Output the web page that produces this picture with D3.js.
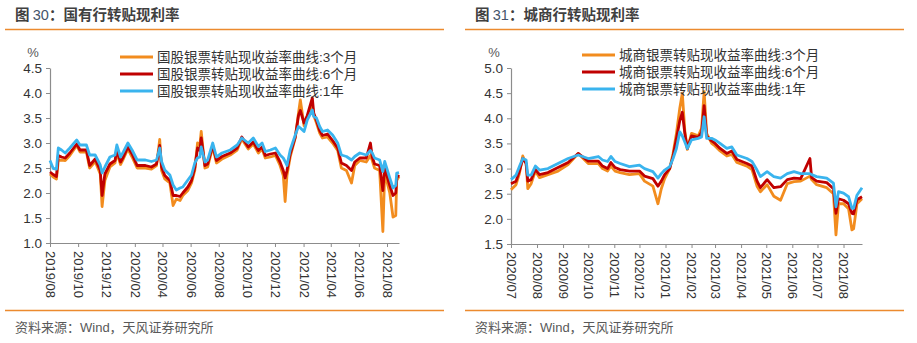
<!DOCTYPE html>
<html>
<head>
<meta charset="utf-8">
<script src="https://cdn.jsdelivr.net/npm/d3@7"></script>
<style>
  body { margin: 0; background: #fff; }
  svg { display: block; font-family: "Liberation Sans", Arial, "Noto Sans CJK SC", sans-serif; }
  .axis path, .axis line { stroke: #8c8c8c; }
  .axis text { fill: #333; }
</style>
</head>
<body>
<svg id="chart" width="917" height="343"></svg>
<script>
// 图30 国股银票
var leftDates = ["2019-08-01","2019-08-08","2019-08-15","2019-08-19","2019-08-26","2019-09-03","2019-09-13","2019-09-28",
  "2019-10-05","2019-10-19","2019-10-26","2019-11-07","2019-11-18","2019-11-22","2019-11-28","2019-12-09","2019-12-20",
  "2019-12-24","2020-01-01","2020-01-07","2020-01-17","2020-01-26","2020-02-06","2020-02-24","2020-03-08","2020-03-19",
  "2020-03-26","2020-03-30","2020-04-06","2020-04-17","2020-04-24","2020-05-01","2020-05-09","2020-05-15","2020-05-26",
  "2020-06-03","2020-06-10","2020-06-16","2020-06-21","2020-06-24","2020-07-02","2020-07-08","2020-07-19","2020-07-27",
  "2020-08-08","2020-08-26","2020-09-10","2020-09-20","2020-10-04","2020-10-15","2020-10-26","2020-11-03","2020-11-10",
  "2020-11-21","2020-12-02","2020-12-12","2020-12-19","2020-12-23","2020-12-27","2021-01-03","2021-01-14","2021-01-21",
  "2021-01-25","2021-02-02","2021-02-09","2021-02-20","2021-02-23","2021-03-01","2021-03-08","2021-03-14","2021-03-25",
  "2021-04-05","2021-04-16","2021-04-24","2021-05-05","2021-05-16","2021-05-23","2021-06-03","2021-06-17","2021-06-26",
  "2021-06-30","2021-07-05","2021-07-16","2021-07-23","2021-07-27","2021-08-07","2021-08-14","2021-08-20","2021-08-22","2021-08-27"];
var left3M = [2.38,2.32,2.28,2.65,2.66,2.65,2.75,2.95,2.82,2.82,2.50,2.63,2.38,1.73,2.25,2.52,2.60,2.80,2.57,2.68,2.88,2.72,
  2.50,2.50,2.48,2.55,3.07,2.45,2.28,2.20,1.75,1.88,1.85,1.95,2.05,2.20,2.45,3.00,2.95,3.23,2.50,2.52,2.92,2.60,2.68,2.76,
  2.86,3.08,2.88,2.98,2.80,2.88,2.70,2.72,2.75,2.55,2.35,1.83,2.35,2.72,3.10,3.60,3.86,3.35,3.50,3.75,3.55,3.40,3.20,3.10,
  3.12,3.00,2.85,2.50,2.45,2.20,2.55,2.65,2.62,2.75,2.65,2.50,2.45,1.23,2.40,2.00,1.52,1.55,2.25,2.33];
var left6M = [2.42,2.37,2.33,2.75,2.72,2.70,2.80,2.98,2.86,2.86,2.55,2.68,2.45,1.95,2.38,2.58,2.65,2.85,2.62,2.72,2.92,2.78,
  2.55,2.55,2.52,2.58,2.95,2.52,2.35,2.25,1.95,1.95,1.93,2.00,2.12,2.25,2.50,2.90,2.85,3.10,2.55,2.58,2.95,2.65,2.73,2.80,
  2.90,3.12,2.92,3.02,2.85,2.92,2.75,2.78,2.80,2.62,2.45,2.30,2.45,2.78,3.12,3.55,3.65,3.40,3.55,3.90,3.60,3.45,3.25,3.15,
  3.18,3.05,2.90,2.60,2.55,2.45,2.62,2.70,2.70,3.00,2.72,2.58,2.55,2.05,2.50,2.15,1.95,2.00,2.30,2.36];
var left1Y = [2.65,2.49,2.48,2.90,2.86,2.80,2.90,3.06,2.96,2.96,2.76,2.76,2.56,2.40,2.52,2.72,2.76,2.96,2.72,2.82,3.00,2.86,
  2.66,2.66,2.63,2.66,2.90,2.63,2.46,2.36,2.16,2.06,2.10,2.12,2.26,2.36,2.60,2.70,2.72,2.92,2.62,2.66,3.00,2.72,2.80,2.86,
  2.96,3.10,3.00,3.10,2.93,3.00,2.83,2.86,2.90,2.76,2.70,2.63,2.55,2.86,3.16,3.33,3.30,3.23,3.46,3.66,3.53,3.50,3.33,3.23,
  3.26,3.16,3.00,2.76,2.73,2.66,2.73,2.80,2.76,2.85,2.80,2.70,2.66,2.43,2.63,2.30,2.10,2.15,2.40,2.41];
var leftTicks = ["2019/08","2019/10","2019/12","2020/02","2020/04","2020/06","2020/08","2020/10","2020/12","2021/02","2021/04","2021/06","2021/08"];
var leftYTicks = [1.0,1.5,2.0,2.5,3.0,3.5,4.0,4.5];
var leftNames = ["国股银票转贴现收益率曲线:3个月","国股银票转贴现收益率曲线:6个月","国股银票转贴现收益率曲线:1年"];

// 图31 城商银票
var rightDates = ["2020-07-01","2020-07-07","2020-07-11","2020-07-15","2020-07-19","2020-07-21","2020-07-25","2020-07-30",
  "2020-08-04","2020-08-14","2020-08-26","2020-09-07","2020-09-19","2020-10-01","2020-10-13","2020-10-18","2020-10-24",
  "2020-10-28","2020-11-02","2020-11-08","2020-11-19","2020-12-01","2020-12-07","2020-12-17","2020-12-23","2020-12-27",
  "2020-12-31","2021-01-06","2021-01-10","2021-01-14","2021-01-18","2021-01-21","2021-01-24","2021-01-27","2021-02-01",
  "2021-02-09","2021-02-13","2021-02-16","2021-02-19","2021-02-25","2021-03-01","2021-03-07","2021-03-15","2021-03-21",
  "2021-03-27","2021-04-08","2021-04-14","2021-04-20","2021-04-24","2021-05-02","2021-05-10","2021-05-18","2021-05-26",
  "2021-06-03","2021-06-11","2021-06-22","2021-06-24","2021-06-30","2021-07-12","2021-07-20","2021-07-23","2021-07-26",
  "2021-08-01","2021-08-07","2021-08-11","2021-08-13","2021-08-17","2021-08-23"];
var right3M = [2.58,2.68,2.90,3.25,3.10,2.60,2.70,2.95,2.82,2.88,2.95,3.08,3.30,3.10,3.10,3.00,2.95,3.05,2.95,2.92,2.88,2.90,
  2.75,2.65,2.30,2.60,2.80,3.00,3.30,3.70,4.20,4.50,3.75,3.38,3.70,3.65,3.80,4.53,3.70,3.50,3.45,3.35,3.25,3.28,3.12,3.05,
  2.98,2.65,2.54,2.68,2.45,2.37,2.70,2.74,2.75,2.85,2.78,2.68,2.62,2.50,1.68,2.30,2.30,2.20,1.78,1.80,2.30,2.40];
var right6M = [2.70,2.75,2.95,3.20,3.10,2.75,2.78,2.98,2.88,2.92,3.02,3.12,3.30,3.15,3.15,3.05,3.00,3.12,3.02,2.98,2.95,2.95,
  2.85,2.80,2.65,2.75,2.88,3.00,3.25,3.60,3.95,4.12,3.70,3.40,3.65,3.62,3.72,4.25,3.65,3.55,3.50,3.40,3.30,3.35,3.18,3.10,
  3.05,2.75,2.62,2.78,2.62,2.64,2.78,2.81,2.80,3.20,2.82,2.75,2.72,2.60,2.11,2.40,2.37,2.30,2.11,2.10,2.38,2.44];
var right1Y = [2.78,2.87,3.04,3.20,3.17,2.87,2.87,3.05,2.97,3.00,3.10,3.20,3.27,3.20,3.24,3.17,3.14,3.24,3.14,3.10,3.04,3.07,
  3.00,2.94,2.81,2.90,2.97,3.04,3.20,3.40,3.73,3.65,3.53,3.40,3.57,3.60,3.63,4.03,3.60,3.60,3.57,3.50,3.40,3.43,3.27,3.20,
  3.14,2.97,2.84,2.94,2.84,2.81,2.90,2.94,2.90,2.90,2.88,2.84,2.81,2.71,2.24,2.54,2.51,2.44,2.21,2.21,2.47,2.62];
var rightTicks = ["2020/07","2020/08","2020/09","2020/10","2020/11","2020/12","2021/01","2021/02","2021/03","2021/04","2021/05","2021/06","2021/07","2021/08"];
var rightYTicks = [1.5,2.0,2.5,3.0,3.5,4.0,4.5,5.0];
var rightNames = ["城商银票转贴现收益率曲线:3个月","城商银票转贴现收益率曲线:6个月","城商银票转贴现收益率曲线:1年"];

var colors = ["#F28C1E", "#C00000", "#3AB4EE"];
var parseDay = d3.timeParse("%Y-%m-%d"),
    parseMonth = d3.timeParse("%Y/%m");

var svg = d3.select("#chart");

function drawPanel(cfg) {
  var g = svg.append("g").attr("transform", "translate(" + cfg.ox + ",0)");

  // title
  var title = g.append("text")
    .attr("x", 15).attr("y", 20)
    .attr("font-size", 14.5)
    .attr("fill", "#404040");
  title.append("tspan").attr("font-weight", "bold").attr("font-family", "Noto Sans CJK SC").text("图 ");
  title.append("tspan").attr("fill", "#44546A").text(cfg.num);
  title.append("tspan").attr("font-weight", "bold").attr("font-family", "Noto Sans CJK SC").text("：" + cfg.title);

  g.append("line")
    .attr("x1", 5).attr("x2", 444).attr("y1", 29.5).attr("y2", 29.5)
    .attr("stroke", "#EC8A2E").attr("stroke-width", 1.3);
  g.append("line")
    .attr("x1", 5).attr("x2", 444).attr("y1", 310.5).attr("y2", 310.5)
    .attr("stroke", "#EC8A2E").attr("stroke-width", 1.3);

  g.append("text")
    .attr("x", 15).attr("y", 332)
    .attr("font-size", 13)
    .attr("fill", "#595959")
    .text("资料来源：Wind，天风证券研究所");

  var dates = cfg.dates.map(parseDay);
  var x = d3.scaleTime()
    .domain([parseMonth(cfg.ticks[0]), dates[dates.length - 1]])
    .range([cfg.x0, cfg.x1]);
  var y = d3.scaleLinear()
    .domain(d3.extent(cfg.yTicks))
    .range([cfg.y0, cfg.y1]);

  g.append("g")
    .attr("class", "axis")
    .attr("transform", "translate(" + cfg.x0 + ",0)")
    .call(d3.axisLeft(y).tickValues(cfg.yTicks).tickFormat(d3.format(".1f")).tickSize(4).tickSizeOuter(0))
    .call(function(a){ a.selectAll("text").attr("font-size", 13.5).attr("x", -8); })
    .call(function(a){ a.select(".domain").attr("stroke-width", 1.2); });

  g.append("g")
    .attr("class", "axis")
    .attr("transform", "translate(0," + cfg.y0 + ")")
    .call(d3.axisBottom(x).tickValues(cfg.ticks.map(parseMonth)).tickFormat(d3.timeFormat("%Y/%m")).tickSize(4).tickSizeOuter(0))
    .call(function(a){
      a.selectAll("text")
        .attr("font-size", 13)
        .attr("transform", "rotate(90)")
        .attr("text-anchor", "start")
        .attr("x", 8).attr("y", 0).attr("dy", "0.35em");
    });

  g.append("text")
    .attr("x", cfg.x0 - 17).attr("y", 57)
    .attr("text-anchor", "middle")
    .attr("font-size", 13)
    .attr("fill", "#595959")
    .text("%");

  var line = d3.line()
    .x(function(d, i){ return x(dates[i]); })
    .y(function(d){ return y(d); });

  [cfg.s3, cfg.s6, cfg.s12].forEach(function(s, i){
    g.append("path")
      .attr("fill", "none")
      .attr("stroke", colors[i])
      .attr("stroke-width", 2.8)
      .attr("stroke-linejoin", "round")
      .attr("d", line(s));
  });

  var leg = g.selectAll(".leg")
    .data(cfg.names)
    .join("g")
      .attr("class", "leg")
      .attr("transform", function(d, i){ return "translate(" + cfg.legX + "," + (cfg.legY + i * 17) + ")"; });
  leg.append("line")
    .attr("x1", 0).attr("x2", 33)
    .attr("stroke", function(d, i){ return colors[i]; })
    .attr("stroke-width", 3);
  leg.append("text")
    .attr("x", 37).attr("dy", "0.35em")
    .attr("font-size", 13.5)
    .attr("fill", "#333")
    .text(function(d){ return d; });
}

drawPanel({ox: 0, num: "30", title: "国有行转贴现利率", dates: leftDates, s3: left3M, s6: left6M, s12: left1Y,
  ticks: leftTicks, yTicks: leftYTicks, names: leftNames,
  x0: 50, x1: 399, y0: 243, y1: 68, legX: 120, legY: 57});
drawPanel({ox: 460, num: "31", title: "城商行转贴现利率", dates: rightDates, s3: right3M, s6: right6M, s12: right1Y,
  ticks: rightTicks, yTicks: rightYTicks, names: rightNames,
  x0: 51, x1: 402, y0: 244, y1: 68, legX: 122, legY: 55});
</script>
</body>
</html>
